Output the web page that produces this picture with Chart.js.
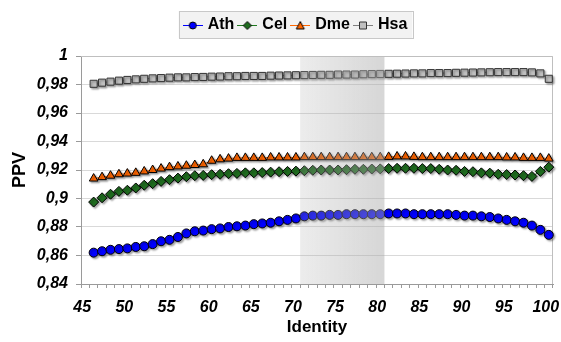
<!DOCTYPE html>
<html>
<head>
<meta charset="utf-8">
<script src="https://cdn.jsdelivr.net/npm/chart.js@4.4.1/dist/chart.umd.min.js"></script>
<style>
  html, body { margin: 0; padding: 0; background: #fff; }
  #wrap { width: 561px; height: 342px; }
</style>
</head>
<body>
<div id="wrap"><canvas id="ppvChart" width="561" height="342"></canvas></div>
<script>
// identity thresholds (category axis), 45 has no value
const identity = [45, 46, 47, 48, 49, 50, 51, 52, 53, 54, 55, 56, 57, 58, 59, 60, 61, 62, 63, 64,
  65, 66, 67, 68, 69, 70, 71, 72, 73, 74, 75, 76, 77, 78, 79, 80, 81, 82, 83, 84,
  85, 86, 87, 88, 89, 90, 91, 92, 93, 94, 95, 96, 97, 98, 99, 100];

const ath = [null,
  0.862, 0.863, 0.864, 0.8645, 0.865, 0.866, 0.8665, 0.868, 0.870, 0.871,
  0.873, 0.8755, 0.877, 0.8775, 0.8785, 0.879, 0.880, 0.8805, 0.881, 0.882,
  0.8825, 0.883, 0.884, 0.885, 0.886, 0.8875, 0.888, 0.888, 0.8885, 0.8885,
  0.889, 0.889, 0.889, 0.889, 0.889, 0.8895, 0.8895, 0.8895, 0.889, 0.889,
  0.889, 0.889, 0.889, 0.8885, 0.888, 0.888, 0.8875, 0.887, 0.886, 0.885,
  0.884, 0.883, 0.881, 0.878, 0.8745];

const cel = [null,
  0.8975, 0.9005, 0.903, 0.905, 0.9058, 0.9074, 0.9093, 0.9104, 0.912, 0.9132,
  0.9143, 0.9153, 0.916, 0.9162, 0.9167, 0.917, 0.9174, 0.9176, 0.918, 0.918,
  0.9182, 0.9185, 0.9188, 0.919, 0.9192, 0.9195, 0.9198, 0.92, 0.92, 0.92,
  0.9202, 0.9205, 0.9205, 0.9207, 0.9208, 0.921, 0.9212, 0.9212, 0.9212, 0.921,
  0.921, 0.9205, 0.92, 0.9198, 0.919, 0.9188, 0.918, 0.9178, 0.917, 0.9168,
  0.9165, 0.916, 0.9155, 0.919, 0.922];

const dme = [null,
  0.914, 0.915, 0.916, 0.917, 0.9175, 0.918, 0.919, 0.920, 0.921, 0.922,
  0.9225, 0.923, 0.9235, 0.924, 0.9265, 0.9275, 0.928, 0.9285, 0.9285, 0.9285,
  0.9285, 0.9288, 0.9288, 0.9288, 0.9288, 0.929, 0.929, 0.929, 0.929, 0.929,
  0.929, 0.929, 0.929, 0.929, 0.929, 0.9292, 0.9295, 0.9295, 0.9292, 0.929,
  0.929, 0.929, 0.929, 0.929, 0.929, 0.929, 0.929, 0.929, 0.929, 0.9288,
  0.9288, 0.9285, 0.9285, 0.9285, 0.928];

const hsa = [null,
  0.9805, 0.9813, 0.982, 0.9827, 0.9832, 0.9836, 0.984, 0.9843, 0.9845, 0.9848,
  0.985, 0.985, 0.9852, 0.9853, 0.9855, 0.9856, 0.9858, 0.9858, 0.986, 0.986,
  0.986, 0.9862, 0.9863, 0.9864, 0.9865, 0.9866, 0.9867, 0.9868, 0.9868, 0.987,
  0.987, 0.987, 0.9872, 0.9873, 0.9874, 0.9875, 0.9876, 0.9877, 0.9878, 0.9878,
  0.988, 0.988, 0.988, 0.9882, 0.9883, 0.9884, 0.9885, 0.9886, 0.9887, 0.9887,
  0.9887, 0.9887, 0.9885, 0.9878, 0.984];

const seriesNames = ['Ath', 'Cel', 'Dme', 'Hsa'];
const yMin = 0.84, yMax = 1, yStep = 0.02;
const shadeFrom = 70, shadeTo = 80;

const FONT = "'Liberation Sans', Arial, sans-serif";

// small legend sample: line with the marker in the middle
function legendIcon(lineColor, fill, stroke, shape) {
  const c = document.createElement('canvas');
  c.width = 20; c.height = 12;
  const g = c.getContext('2d');
  g.strokeStyle = lineColor; g.lineWidth = 1;
  g.beginPath(); g.moveTo(0, 6.5); g.lineTo(20, 6.5); g.stroke();
  g.fillStyle = fill; g.strokeStyle = stroke;
  g.beginPath();
  if (shape === 'circle') g.arc(10, 6.5, 3.5, 0, Math.PI * 2);
  if (shape === 'diamond') { g.moveTo(10, 2.5); g.lineTo(14, 6.5); g.lineTo(10, 10.5); g.lineTo(6, 6.5); g.closePath(); }
  if (shape === 'triangle') { g.moveTo(10, 2.5); g.lineTo(14, 10); g.lineTo(6, 10); g.closePath(); }
  if (shape === 'square') g.rect(6.5, 3, 7, 7);
  g.fill(); g.stroke();
  return c;
}

const styles = [
  { line: '#0000ff', fill: '#0000ff', stroke: '#000000', point: 'circle', r: 4.5, shape: 'circle' },
  { line: '#1f7a1f', fill: '#1f6b1f', stroke: '#000000', point: 'rectRot', r: 5, shape: 'diamond' },
  { line: '#ff6600', fill: '#ff6600', stroke: '#000000', point: 'triangle', r: 5, shape: 'triangle' },
  { line: '#808080', fill: '#c0c0c0', stroke: '#333333', point: 'rect', r: 5, shape: 'square' }
];
const seriesData = [ath, cel, dme, hsa];

const datasets = seriesNames.map((name, i) => ({
  label: name,
  data: seriesData[i],
  borderColor: styles[i].line,
  borderWidth: 1,
  pointStyle: styles[i].point,
  pointRadius: styles[i].r,
  pointBackgroundColor: styles[i].fill,
  pointBorderColor: styles[i].stroke,
  pointBorderWidth: 1,
  fill: false,
  tension: 0
}));
const icons = styles.map(s => legendIcon(s.line, s.fill, s.stroke, s.shape));

// push the plot area down below the legend, and nudge the legend right
const legendSpacer = {
  id: 'legendSpacer',
  beforeInit(chart) {
    const origFit = chart.legend.fit;
    chart.legend.fit = function () {
      origFit.bind(chart.legend)();
      this.height += 13;
    };
  },
  afterLayout(chart) {
    chart.legend.left += 16;
    chart.legend.right += 16;
  }
};

// plot border, grey box behind the legend, shadows and the shaded identity band
const decorations = {
  id: 'decorations',
  beforeDraw(chart) {
    const { ctx, legend } = chart;
    const boxes = legend.legendHitBoxes;
    if (!boxes || !boxes.length) return;
    const left = Math.min(...boxes.map(b => b.left)) - 7;
    const right = Math.max(...boxes.map(b => b.left + b.width)) + 5;
    const top = Math.min(...boxes.map(b => b.top)) - 6;
    const bottom = Math.max(...boxes.map(b => b.top + b.height)) + 5;
    ctx.save();
    ctx.fillStyle = '#f2f2f2';
    ctx.strokeStyle = '#c8c8c8';
    ctx.lineWidth = 1;
    ctx.fillRect(left, top, right - left, bottom - top);
    ctx.strokeRect(Math.round(left) + 0.5, Math.round(top) + 0.5, Math.round(right - left), Math.round(bottom - top));
    ctx.restore();
  },
  beforeDatasetsDraw(chart) {
    const { ctx, chartArea: a } = chart;
    ctx.save();
    ctx.strokeStyle = '#bfbfbf';
    ctx.lineWidth = 1;
    ctx.beginPath();
    ctx.moveTo(a.left, Math.round(a.top) + 0.5);
    ctx.lineTo(Math.round(a.right) - 0.5, Math.round(a.top) + 0.5);
    ctx.lineTo(Math.round(a.right) - 0.5, a.bottom);
    ctx.stroke();
    ctx.restore();
    ctx.save();
    ctx.shadowColor = 'rgba(0,0,0,0.35)';
    ctx.shadowBlur = 2;
    ctx.shadowOffsetX = 1.5;
    ctx.shadowOffsetY = 1.5;
  },
  afterDatasetsDraw(chart) {
    const { ctx, chartArea: a, scales: { x } } = chart;
    ctx.restore();
    const i0 = identity.indexOf(shadeFrom), i1 = identity.indexOf(shadeTo);
    const x0 = (x.getPixelForValue(i0) + x.getPixelForValue(i0 + 1)) / 2;
    const x1 = (x.getPixelForValue(i1) + x.getPixelForValue(i1 + 1)) / 2;
    const grad = ctx.createLinearGradient(x0, 0, x1, 0);
    grad.addColorStop(0, 'rgba(170,170,170,0.22)');
    grad.addColorStop(1, 'rgba(170,170,170,0.48)');
    ctx.save();
    ctx.fillStyle = grad;
    ctx.fillRect(x0, a.top + 1, x1 - x0, a.bottom - a.top - 1);
    ctx.restore();
  }
};

new Chart(document.getElementById('ppvChart'), {
  type: 'line',
  data: { labels: identity, datasets: datasets },
  plugins: [legendSpacer, decorations],
  options: {
    responsive: false,
    animation: false,
    devicePixelRatio: 1,
    layout: { padding: { top: 11, right: 0, bottom: 0, left: 0 } },
    plugins: {
      tooltip: { enabled: false },
      legend: {
        position: 'top',
        labels: {
          usePointStyle: true,
          pointStyleWidth: 14,
          padding: 6,
          color: '#000',
          font: { family: FONT, size: 16, weight: 'bold' },
          generateLabels: (chart) => chart.data.datasets.map((ds, i) => ({
            text: ds.label,
            pointStyle: icons[i],
            fillStyle: ds.pointBackgroundColor,
            strokeStyle: ds.borderColor,
            lineWidth: 0,
            hidden: false,
            datasetIndex: i,
            fontColor: '#000'
          }))
        }
      }
    },
    scales: {
      x: {
        type: 'category',
        offset: true,
        grid: { display: true, drawOnChartArea: false, offset: true, tickLength: 4, color: '#9a9a9a' },
        border: { display: true, color: '#9a9a9a' },
        ticks: {
          autoSkip: false,
          maxRotation: 0,
          minRotation: 0,
          padding: 10,
          labelOffset: -3,
          color: '#000',
          font: { family: FONT, size: 16, weight: 'bold', style: 'italic' },
          callback: function (value, index) {
            const v = identity[index];
            return v % 5 === 0 ? String(v) : '';
          }
        },
        title: {
          display: true,
          text: 'Identity',
          color: '#000',
          font: { family: FONT, size: 17, weight: 'bold' },
          padding: { top: 0, bottom: 4 }
        },
        afterFit(scale) {
          scale.height = 58;
          scale.paddingLeft = 0;
          scale.paddingRight = 8;
        }
      },
      y: {
        min: yMin,
        max: yMax,
        grid: { color: '#d9d9d9', tickLength: 5, tickColor: '#9a9a9a' },
        border: { display: true, color: '#9a9a9a' },
        ticks: {
          stepSize: yStep,
          padding: 8,
          color: '#000',
          font: { family: FONT, size: 16, weight: 'bold', style: 'italic' },
          callback: (value) => String(Math.round(value * 100) / 100).replace('.', ',')
        },
        title: {
          display: true,
          text: 'PPV',
          color: '#000',
          font: { family: FONT, size: 18, weight: 'bold' },
          padding: { top: 9, bottom: 0 }
        },
        afterFit(scale) {
          scale.width = 81;
        }
      }
    }
  }
});
</script>
</body>
</html>
